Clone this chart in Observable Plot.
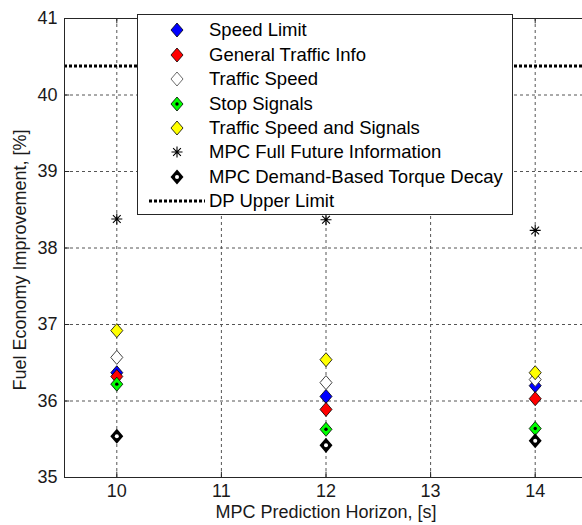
<!DOCTYPE html>
<html>
<head>
<meta charset="utf-8">
<script src="https://cdn.jsdelivr.net/npm/d3@7"></script>
<script src="https://cdn.jsdelivr.net/npm/@observablehq/plot@0.6"></script>
<style>
  html, body { margin: 0; padding: 0; background: #fff; overflow: hidden; }
  #wrap { position: relative; width: 582px; height: 525px; overflow: hidden; }
  #wrap > svg { max-width: none !important; display: block; }
  #legend { position: absolute; left: 137px; top: 14px; width: 374px; height: 199px;
            border: 1px solid #262626; background: #fff;
            font-family: 'Liberation Sans', Arial, sans-serif; font-size: 18.5px; color: #000; }
  #legend .row { position: absolute; left: 0; height: 24px; width: 100%; }
  #legend svg { position: absolute; left: 0; top: 0; overflow: visible; }
  #legend span { position: absolute; left: 71px; top: 1px; line-height: 22px; white-space: nowrap; }
</style>
</head>
<body>
<div id="wrap"></div>
<script>
// ---- data ----
const horizons = [10, 12, 14];
const speedLimit = [36.37, 36.06, 36.20];
const generalTrafficInfo = [36.32, 35.89, 36.03];
const trafficSpeed = [36.57, 36.24, 36.28];
const stopSignals = [36.22, 35.63, 35.64];
const trafficSpeedAndSignals = [36.92, 36.54, 36.37];
const mpcFullFuture = [38.38, 38.37, 38.23];
const mpcTorqueDecay = [35.54, 35.42, 35.48];
const dpUpperLimit = 40.38;
const xTicks = [10, 11, 12, 13, 14];
const yTicks = [35, 36, 37, 38, 39, 40, 41];
const seriesNames = ["Speed Limit", "General Traffic Info", "Traffic Speed", "Stop Signals",
  "Traffic Speed and Signals", "MPC Full Future Information", "MPC Demand-Based Torque Decay", "DP Upper Limit"];

// ---- symbols ----
const diamond = {
  draw(ctx, size) {
    const r = Math.sqrt(size / Math.PI);
    ctx.moveTo(0, -r); ctx.lineTo(r * 0.86, 0); ctx.lineTo(0, r); ctx.lineTo(-r * 0.86, 0); ctx.closePath();
  }
};
const asterisk = {
  draw(ctx, size) {
    const r = Math.sqrt(size / Math.PI);
    const d = r * Math.SQRT1_2;
    ctx.moveTo(0, -r); ctx.lineTo(0, r);
    ctx.moveTo(-r, 0); ctx.lineTo(r, 0);
    ctx.moveTo(-d, -d); ctx.lineTo(d, d);
    ctx.moveTo(-d, d); ctx.lineTo(d, -d);
  }
};

const rows = vals => horizons.map((h, i) => ({x: h, y: vals[i]}));
const font = "'Liberation Sans', Arial, sans-serif";
const gridStyle = {stroke: "#555", strokeOpacity: 1, strokeWidth: 1, strokeDasharray: "3,3"};

const chart = Plot.plot({
  width: 590, height: 525,
  marginLeft: 64, marginRight: 3, marginTop: 18, marginBottom: 48,
  style: {fontFamily: font, fontSize: "18px", color: "#1a1a1a", background: "#fff"},
  x: {domain: [9.5, 14.5], ticks: xTicks, tickSize: 0, tickPadding: 7, label: null, tickFormat: d => String(d)},
  y: {domain: [35, 41], ticks: yTicks, tickSize: 0, tickPadding: 7, label: null, tickFormat: d => String(d)},
  marks: [
    Plot.ruleX(xTicks, {x: d => d, ...gridStyle}),
    Plot.ruleY(yTicks.slice(1, -1), {y: d => d, ...gridStyle}),
    Plot.ruleY([dpUpperLimit], {y: d => d, stroke: "#000", strokeWidth: 3, strokeDasharray: "3,2"}),
    // inward tick marks
    Plot.ruleX(xTicks, {x: d => d, y1: 35, y2: 35.07, stroke: "#262626"}),
    Plot.ruleX(xTicks, {x: d => d, y1: 41, y2: 40.93, stroke: "#262626"}),
    Plot.ruleY(yTicks, {y: d => d, x1: 9.5, x2: 9.55, stroke: "#262626"}),
    Plot.frame({stroke: "#262626", strokeWidth: 1}),
    Plot.dot(rows(speedLimit), {x: "x", y: "y", symbol: diamond, r: 7, fill: "#0000ff", stroke: "#000", strokeWidth: 0.8}),
    Plot.dot(rows(generalTrafficInfo), {x: "x", y: "y", symbol: diamond, r: 7, fill: "#ff0000", stroke: "#000", strokeWidth: 0.8}),
    Plot.dot(rows(trafficSpeed), {x: "x", y: "y", symbol: diamond, r: 7, fill: "#fff", stroke: "#444", strokeWidth: 1}),
    Plot.dot(rows(stopSignals), {x: "x", y: "y", symbol: diamond, r: 7, fill: "#00ff00", stroke: "#000", strokeWidth: 0.8}),
    Plot.dot(rows(stopSignals), {x: "x", y: "y", r: 1.7, fill: "#000", stroke: "none"}),
    Plot.dot(rows(trafficSpeedAndSignals), {x: "x", y: "y", symbol: diamond, r: 7, fill: "#ffff00", stroke: "#000", strokeWidth: 0.8}),
    Plot.dot(rows(mpcFullFuture), {x: "x", y: "y", symbol: asterisk, r: 5.5, fill: "none", stroke: "#000", strokeWidth: 1.1}),
    Plot.dot(rows(mpcTorqueDecay), {x: "x", y: "y", symbol: diamond, r: 6, fill: "#000", stroke: "#000", strokeWidth: 2}),
    Plot.dot(rows(mpcTorqueDecay), {x: "x", y: "y", r: 2, fill: "#fff", stroke: "none"}),
    Plot.text(["MPC Prediction Horizon, [s]"], {frameAnchor: "bottom", dy: 40, fontSize: 18, fill: "#1a1a1a"}),
    Plot.text(["Fuel Economy Improvement, [%]"], {frameAnchor: "left", textAnchor: "middle", dx: -44, dy: 12, rotate: -90, fontSize: 18, fill: "#1a1a1a"})
  ]
});
chart.style.maxWidth = "none";
const wrap = document.getElementById("wrap");
wrap.appendChild(chart);

// ---- legend (HTML overlay) ----
const legendStyles = [
  {kind: "diamond", fill: "#0000ff", stroke: "#000"},
  {kind: "diamond", fill: "#ff0000", stroke: "#000"},
  {kind: "diamond", fill: "#fff", stroke: "#444"},
  {kind: "diamond", fill: "#00ff00", stroke: "#000", dot: "#000"},
  {kind: "diamond", fill: "#ffff00", stroke: "#000"},
  {kind: "asterisk"},
  {kind: "diamond", fill: "#000", stroke: "#000", sw: 2, r: 6, dot: "#fff"},
  {kind: "line"}
];
const legend = document.createElement("div");
legend.id = "legend";
const rowTops = [3, 28, 52, 77, 101, 125, 150, 174];
seriesNames.forEach((name, i) => {
  const row = document.createElement("div");
  row.className = "row";
  row.style.top = rowTops[i] + "px";
  const st = legendStyles[i];
  const svg = d3.create("svg").attr("width", 70).attr("height", 24);
  const cx = 39, cy = 12;
  if (st.kind === "diamond") {
    const r = st.r || 7;
    svg.append("path").attr("transform", `translate(${cx},${cy})`)
      .attr("d", d3.symbol(diamond, Math.PI * r * r)())
      .attr("fill", st.fill).attr("stroke", st.stroke).attr("stroke-width", st.sw || 0.8);
    if (st.dot) svg.append("circle").attr("cx", cx).attr("cy", cy).attr("r", st.dot === "#fff" ? 2 : 1.7).attr("fill", st.dot);
  } else if (st.kind === "asterisk") {
    svg.append("path").attr("transform", `translate(${cx},${cy})`)
      .attr("d", d3.symbol(asterisk, Math.PI * 5.5 * 5.5)())
      .attr("fill", "none").attr("stroke", "#000").attr("stroke-width", 1.1);
  } else {
    svg.append("line").attr("x1", 11).attr("x2", 67).attr("y1", cy).attr("y2", cy)
      .attr("stroke", "#000").attr("stroke-width", 3).attr("stroke-dasharray", "3,2");
  }
  row.appendChild(svg.node());
  const span = document.createElement("span");
  span.textContent = name;
  row.appendChild(span);
  legend.appendChild(row);
});
wrap.appendChild(legend);
</script>
</body>
</html>
